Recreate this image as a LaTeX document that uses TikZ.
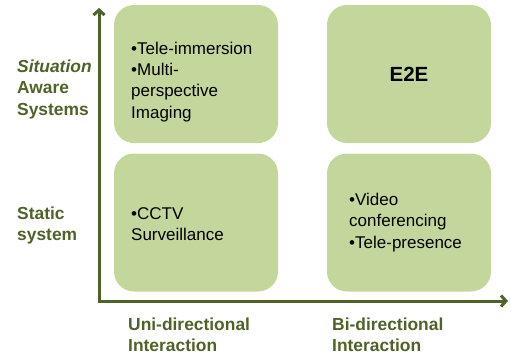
\documentclass[tikz,border=0pt]{standalone}
\usepackage{fontspec}
\setmainfont{Liberation Sans}
\usepackage{tikz}
\usetikzlibrary{arrows.meta}
\definecolor{olivebox}{HTML}{C3D69B}
\definecolor{olivedark}{HTML}{4F6228}
\tikzstyle{quad} = [fill=olivebox, rounded corners=20pt, minimum width=164pt, minimum height=138pt, inner sep=0pt]
\tikzstyle{item} = [inner sep=0pt, align=left, anchor=base west, font=\fontsize{17}{21.3}\selectfont]
\tikzstyle{axislabel} = [inner sep=0pt, align=left, anchor=base west, text=olivedark, font=\fontsize{17.4}{21.2}\selectfont\bfseries]
\tikzstyle{axis} = [draw, line width=3pt, color=olivedark, line join=miter, {Straight Barb[length=5pt,width=11pt]}-{Straight Barb[length=5pt,width=11pt]}]

\begin{document}
\begin{tikzpicture} [x=1pt, y=-1pt]

  \useasboundingbox (0,0) rectangle (511,359);

  % quadrants
  \node[quad] (tl) at (196,74) {};
  \node[quad, font=\fontsize{20.5}{24}\selectfont\bfseries] (tr) at (409,74) {E2E};
  \node[quad] (bl) at (196,222.5) {};
  \node[quad] (br) at (409,222.5) {};

  \node[item] (tltext) at (131,118) {\textbullet Tele-immersion\\\textbullet Multi-\\perspective\\Imaging};
  \node[item] (bltext) at (131,240.7) {\textbullet CCTV\\Surveillance};
  \node[item] (brtext) at (349,248) {\textbullet Video\\conferencing\\\textbullet Tele-presence};

  % axes
  \coordinate (origin) at (99,301);
  \coordinate (ytip) at (99,8);
  \coordinate (xtip) at (508,301);
  \draw[axis] (ytip) -- (origin) -- (xtip);

  \node[axislabel] (aware) at (17,115) {\textit{Situation}\\Aware\\Systems};
  \node[axislabel] (static) at (17,240.7) {Static\\system};
  \node[axislabel] (uni) at (128,351.7) {Uni-directional\\Interaction};
  \node[axislabel] (bi) at (332,351.7) {Bi-directional\\Interaction};

\end{tikzpicture}
\end{document}
